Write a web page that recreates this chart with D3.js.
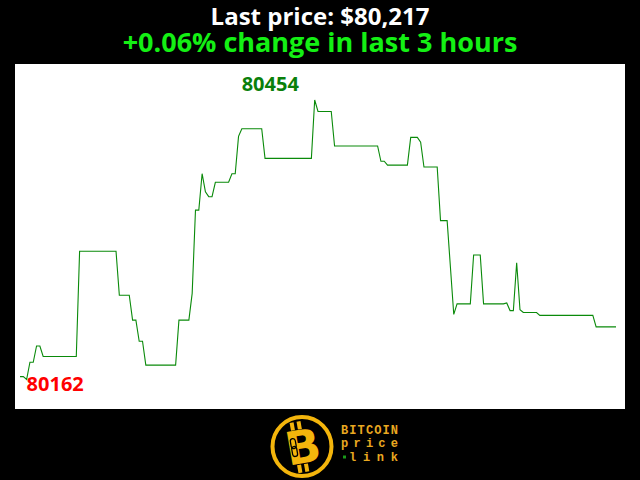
<!DOCTYPE html>
<html>
<head>
<meta charset="utf-8">
<script src="https://cdn.jsdelivr.net/npm/d3@7"></script>
<style>
  html, body { margin: 0; padding: 0; background: #000; }
  svg { display: block; }
</style>
</head>
<body>
<script>
// ---- data (one price per minute, last 3 hours) ----
const prices = [
  80165, 80165, 80162, 80180, 80180, 80197, 80197,
  80186, 80186, 80186, 80186, 80186, 80186, 80186, 80186, 80186, 80186, 80186,
  80296, 80296, 80296, 80296, 80296, 80296, 80296, 80296, 80296, 80296, 80296, 80296,
  80250, 80250, 80250, 80250,
  80224, 80224,
  80202, 80202,
  80177, 80177, 80177, 80177, 80177, 80177, 80177, 80177, 80177, 80177,
  80224, 80224, 80224, 80224,
  80252,
  80339, 80339,
  80377, 80358, 80353, 80353,
  80368, 80368, 80368, 80368, 80368,
  80377, 80377,
  80416,
  80424, 80424, 80424, 80424, 80424, 80424, 80424,
  80393, 80393, 80393, 80393, 80393, 80393, 80393, 80393, 80393, 80393, 80393, 80393, 80393, 80393, 80393,
  80454,
  80442, 80442, 80442, 80442, 80442,
  80406, 80406, 80406, 80406, 80406, 80406, 80406, 80406, 80406, 80406, 80406, 80406, 80406, 80406,
  80390, 80390,
  80386, 80386, 80386, 80386, 80386, 80386, 80386,
  80415, 80415, 80415,
  80410,
  80384, 80384, 80384, 80384, 80384,
  80328, 80328, 80328,
  80279,
  80230,
  80241, 80241, 80241, 80241, 80241,
  80292, 80292, 80292,
  80241, 80241, 80241, 80241, 80241, 80241, 80241,
  80242,
  80234, 80234,
  80284,
  80235,
  80232, 80232, 80232, 80232, 80232,
  80229, 80229, 80229, 80229, 80229, 80229, 80229, 80229, 80229, 80229, 80229, 80229, 80229, 80229, 80229, 80229, 80229,
  80217, 80217, 80217, 80217, 80217, 80217, 80217
];
const minutes = prices.map((_, i) => i);
const titleLines = ["Last price: $80,217", "+0.06% change in last 3 hours"];
const logoWords = ["BITCOIN", "price", "link"];

// ---- layout ----
const W = 640, H = 480;
const svg = d3.select("body").append("svg").attr("width", W).attr("height", H);
svg.append("rect").attr("width", W).attr("height", H).attr("fill", "#000");

// titles
svg.append("text").attr("x", 320).attr("y", 25)
  .attr("text-anchor", "middle").attr("fill", "#fff")
  .style("font-family", "'Open Sans'").style("font-weight", "bold").style("font-size", "24px")
  .text(titleLines[0]);
svg.append("text").attr("x", 320).attr("y", 52)
  .attr("text-anchor", "middle").attr("fill", "#14f014")
  .style("font-family", "'Open Sans'").style("font-weight", "bold").style("font-size", "27px")
  .text(titleLines[1]);

// plot area
svg.append("rect").attr("x", 15).attr("y", 64).attr("width", 610).attr("height", 345).attr("fill", "#fff");

const minV = d3.min(prices), maxV = d3.max(prices);
const x = d3.scaleLinear().domain([0, prices.length - 1]).range([20, 616]);
const y = d3.scaleLinear().domain([minV, maxV]).range([379.5, 100]);

const line = d3.line().x((d, i) => x(minutes[i])).y(d => y(d));
svg.append("path").datum(prices)
  .attr("d", line).attr("fill", "none")
  .attr("stroke", "#0a8a0a").attr("stroke-width", 1.1);

const iMin = prices.indexOf(minV), iMax = prices.indexOf(maxV);
svg.append("text").attr("x", x(iMin)).attr("y", y(minV) + 11)
  .attr("fill", "#ff0000")
  .style("font-family", "'Open Sans'").style("font-weight", "bold").style("font-size", "20px")
  .text(minV);
svg.append("text").attr("x", x(iMax) - 73).attr("y", y(maxV) - 9)
  .attr("fill", "#0a800a")
  .style("font-family", "'Open Sans'").style("font-weight", "bold").style("font-size", "20px")
  .text(maxV);

// ---- logo ----
const gold = "#f4b50c";
const logo = svg.append("g");
logo.append("circle").attr("cx", 302).attr("cy", 446.5).attr("r", 29.5)
  .attr("fill", "#000").attr("stroke", gold).attr("stroke-width", 4);
const bg = logo.append("g").attr("transform", "translate(303,447) rotate(-10)");
bg.append("text").attr("x", 0).attr("y", 16).attr("text-anchor", "middle")
  .attr("fill", gold)
  .style("font-family", "'DejaVu Sans'").style("font-weight", "bold").style("font-size", "46px")
  .text("B");
// bitcoin strokes
[[-9, -26], [-2, -26], [-9, 17], [-2, 17]].forEach(([dx, dy]) => {
  bg.append("rect").attr("x", dx).attr("y", dy).attr("width", 4).attr("height", 8).attr("fill", gold);
});
// chain link in the stem
bg.append("rect").attr("x", -11.5).attr("y", -10).attr("width", 5).attr("height", 10).attr("rx", 2.5)
  .attr("fill", "none").attr("stroke", "#000").attr("stroke-width", 1.3);
bg.append("rect").attr("x", -11.5).attr("y", -2).attr("width", 5).attr("height", 10).attr("rx", 2.5)
  .attr("fill", "none").attr("stroke", "#000").attr("stroke-width", 1.3);

const tx = 341, tw = 57;
const lg = logo.append("g")
  .style("font-family", "'Liberation Mono'").style("font-weight", "bold").style("font-size", "12px")
  .attr("fill", "#eaa820");
lg.append("text").attr("x", tx).attr("y", 434).attr("textLength", tw).attr("lengthAdjust", "spacing").text(logoWords[0]);
lg.append("text").attr("x", tx).attr("y", 447).attr("textLength", tw).attr("lengthAdjust", "spacing").text(logoWords[1]);
lg.append("text").attr("x", tx + 8).attr("y", 461).attr("textLength", tw - 8).attr("lengthAdjust", "spacing").text(logoWords[2]);
logo.append("rect").attr("x", 343).attr("y", 455.5).attr("width", 3).attr("height", 3).attr("fill", "#1a9a1a");
</script>
</body>
</html>
